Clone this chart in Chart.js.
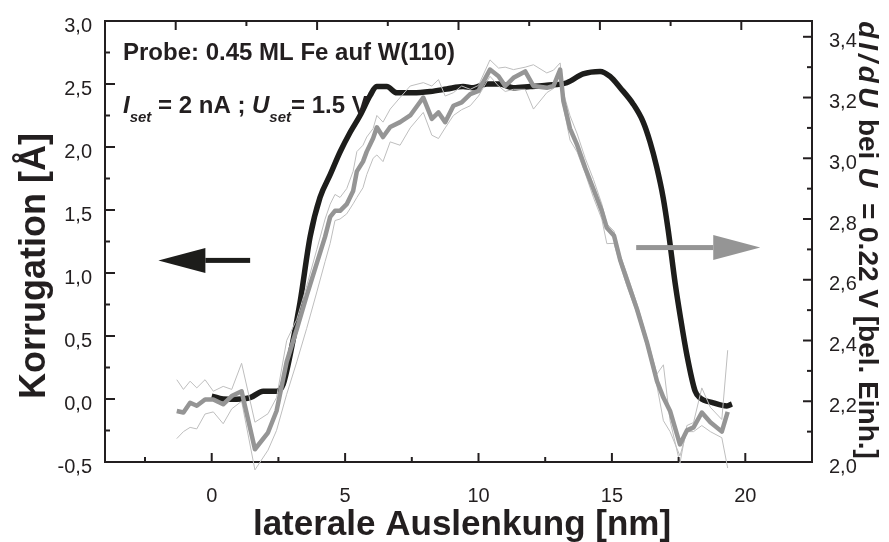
<!doctype html>
<html lang="de">
<head>
<meta charset="utf-8">
<title>Korrugation und dI/dU – 0.45 ML Fe auf W(110)</title>
<script src="https://cdn.jsdelivr.net/npm/chart.js@4"></script>
<style>
  html, body { margin: 0; padding: 0; background: #fff; }
  #wrap { width: 889px; height: 542px; position: relative; }
</style>
</head>
<body>
<div id="wrap"><canvas id="profile"></canvas></div>
<script>
// Höhenprofil, linke Achse [Å]
const topoX = [0, 0.43, 0.94, 1.44, 1.93, 2.44, 2.68, 2.94, 3.31, 3.69, 4.06, 4.44, 4.81, 5.19, 5.56, 5.94,
  6.18, 6.56, 6.94, 7.55, 8.19, 8.81, 9.42, 9.80, 10.31, 10.81, 11.30, 11.94, 12.56, 13.31, 13.92, 14.56,
  14.93, 15.31, 15.80, 16.17, 16.43, 16.68, 16.92, 17.11, 17.37, 17.56, 17.81, 18.12, 18.31, 18.80, 19.31, 19.50];
const topoY = [0.023, 0.0, -0.002, 0.01, 0.062, 0.062, 0.117, 0.35, 0.766, 1.289, 1.60, 1.78, 1.96, 2.117, 2.25, 2.41,
  2.48, 2.48, 2.43, 2.43, 2.44, 2.46, 2.48, 2.47, 2.50, 2.50, 2.47, 2.48, 2.49, 2.51, 2.58, 2.60,
  2.56, 2.47, 2.34, 2.20, 2.04, 1.84, 1.60, 1.34, 0.92, 0.66, 0.35, 0.062, 0.008, -0.03, -0.055, -0.04];

// dI/dU bei U = 0.22 V, rechte Achse: Mittelwert und Streuband
const specX = [-1.31, -1.06, -0.81, -0.56, -0.25, 0.06, 0.43, 0.75, 1.12, 1.62, 2.11, 2.43, 2.81, 3.19, 3.56, 3.94,
  4.25, 4.44, 4.62, 4.81, 5.06, 5.30, 5.44, 5.67, 5.81, 6.05, 6.19, 6.42, 6.69, 7.06, 7.44, 7.93,
  8.25, 8.50, 8.75, 9.06, 9.37, 9.69, 10.0, 10.43, 10.75, 11.0, 11.31, 11.75, 12.06, 12.56, 12.81, 13.06,
  13.18, 13.43, 13.70, 14.0, 14.31, 14.62, 14.81, 15.08, 15.31, 15.56, 15.94, 16.31, 16.69, 16.93, 17.18, 17.55,
  17.81, 18.06, 18.37, 18.69, 19.12, 19.34];
const specMean = [2.168, 2.163, 2.195, 2.185, 2.206, 2.206, 2.190, 2.217, 2.233, 2.042, 2.097, 2.168, 2.33, 2.438, 2.548, 2.655,
  2.742, 2.807, 2.827, 2.827, 2.849, 2.892, 2.957, 2.989, 3.022, 3.066, 3.102, 3.070, 3.103, 3.119, 3.141, 3.200,
  3.130, 3.151, 3.119, 3.173, 3.184, 3.211, 3.222, 3.292, 3.270, 3.238, 3.265, 3.286, 3.238, 3.232, 3.238, 3.292,
  3.189, 3.098, 3.043, 2.968, 2.898, 2.827, 2.771, 2.745, 2.665, 2.600, 2.503, 2.395, 2.266, 2.212, 2.168, 2.058,
  2.104, 2.114, 2.163, 2.131, 2.100, 2.165];
const specUpper = [2.271, 2.239, 2.266, 2.244, 2.271, 2.233, 2.249, 2.239, 2.325, 2.131, 2.159, 2.212, 2.40, 2.47, 2.58, 2.70,
  2.80, 2.849, 2.881, 2.871, 2.90, 2.957, 3.022, 3.043, 3.07, 3.098, 3.141, 3.119, 3.162, 3.20, 3.238, 3.249,
  3.238, 3.259, 3.205, 3.216, 3.238, 3.227, 3.24, 3.324, 3.297, 3.30, 3.292, 3.30, 3.308, 3.281, 3.29, 3.314,
  3.216, 3.140, 3.08, 3.00, 2.93, 2.85, 2.784, 2.76, 2.68, 2.62, 2.52, 2.41, 2.29, 2.320, 2.136, 1.996,
  2.12, 2.13, 2.244, 2.18, 2.14, 2.368];
const specLower = [2.077, 2.10, 2.114, 2.109, 2.158, 2.165, 2.126, 2.175, 2.20, 1.974, 2.039, 2.104, 2.223, 2.33, 2.44, 2.56,
  2.66, 2.72, 2.795, 2.80, 2.817, 2.85, 2.871, 2.903, 2.946, 3.0, 3.011, 2.989, 3.054, 3.043, 3.10, 3.151,
  3.076, 3.065, 3.10, 3.141, 3.16, 3.173, 3.205, 3.270, 3.238, 3.22, 3.227, 3.227, 3.162, 3.216, 3.23, 3.281,
  3.17, 3.06, 3.02, 2.95, 2.87, 2.80, 2.719, 2.72, 2.65, 2.58, 2.49, 2.38, 2.25, 2.136, 2.10, 2.02,
  2.10, 2.10, 2.12, 2.10, 2.08, 1.98];

// Achsenteilung
const xTicks = [0, 5, 10, 15, 20];
const xMinor = [-2.5, 2.5, 7.5, 12.5, 17.5];
const topTicks = [0, 1, 2, 3, 4];
const topMinor = [0.5, 1.5, 2.5, 3.5];
const leftTicks = [-0.5, 0, 0.5, 1, 1.5, 2, 2.5, 3];
const leftMinor = [-0.25, 0.25, 0.75, 1.25, 1.75, 2.25, 2.75];
const rightTicks = [2.0, 2.2, 2.4, 2.6, 2.8, 3.0, 3.2, 3.4];
const rightMinor = [2.1, 2.3, 2.5, 2.7, 2.9, 3.1, 3.3];

// Pfeile: welche Kurve zu welcher Achse gehört
const arrowTopo = { from: 1.44, to: -2.0, y: 1.1 };
const arrowSpec = { from: 15.91, to: 20.56, y: 2.706 };

const FAMILY = '"Liberation Sans", Arial, sans-serif';
const INK = '#231f20';
const GRAY = '#959595';

const pairs = (xs, ys) => xs.map((x, i) => ({ x, y: ys[i] }));
const comma = (v) => v.toFixed(1).replace('.', ',');

function drawRuns(ctx, x, y, runs) {
  let cx = x;
  for (const r of runs) {
    ctx.font = r.font;
    ctx.letterSpacing = r.spacing || '0px';
    ctx.fillText(r.text, cx, y + (r.dy || 0));
    cx += ctx.measureText(r.text).width;
  }
  ctx.letterSpacing = '0px';
}

function runsWidth(ctx, runs) {
  let w = 0;
  for (const r of runs) {
    ctx.font = r.font;
    ctx.letterSpacing = r.spacing || '0px';
    w += ctx.measureText(r.text).width;
  }
  ctx.letterSpacing = '0px';
  return w;
}

function arrow(ctx, x0, x1, y, color) {
  const dir = Math.sign(x1 - x0);
  const headLen = 47, half = 12.5;
  const base = x1 - dir * headLen;
  ctx.fillStyle = color;
  ctx.fillRect(Math.min(x0, base), y - 2.5, Math.abs(base - x0), 5);
  ctx.beginPath();
  ctx.moveTo(x1, y);
  ctx.lineTo(base, y - half);
  ctx.lineTo(base, y + half);
  ctx.closePath();
  ctx.fill();
}

const frame = {
  id: 'frame',
  afterDraw(chart) {
    const { ctx, chartArea: a, scales } = chart;
    ctx.save();
    ctx.strokeStyle = INK;
    ctx.lineWidth = 2;
    const marks = (scale, values, len, side) => {
      for (const v of values) {
        const p = scale.getPixelForValue(v);
        ctx.beginPath();
        if (side === 'left') { ctx.moveTo(a.left, p); ctx.lineTo(a.left + len, p); }
        if (side === 'right') { ctx.moveTo(a.right, p); ctx.lineTo(a.right - len, p); }
        if (side === 'bottom') { ctx.moveTo(p, a.bottom); ctx.lineTo(p, a.bottom - len); }
        if (side === 'top') { ctx.moveTo(p, a.top); ctx.lineTo(p, a.top + len); }
        ctx.stroke();
      }
    };
    marks(scales.y, leftTicks, 10, 'left');
    marks(scales.y, leftMinor, 5, 'left');
    marks(scales.y2, rightTicks, 9, 'right');
    marks(scales.y2, rightMinor, 5, 'right');
    marks(scales.x, xTicks, 9, 'bottom');
    marks(scales.x, xMinor, 5, 'bottom');
    marks(scales.xTop, topTicks, 9, 'top');
    marks(scales.xTop, topMinor, 5, 'top');

    arrow(ctx, scales.x.getPixelForValue(arrowTopo.from), scales.x.getPixelForValue(arrowTopo.to),
      scales.y.getPixelForValue(arrowTopo.y), '#1d1d1b');
    arrow(ctx, scales.x.getPixelForValue(arrowSpec.from), scales.x.getPixelForValue(arrowSpec.to),
      scales.y2.getPixelForValue(arrowSpec.y), GRAY);

    ctx.fillStyle = INK;
    ctx.textBaseline = 'alphabetic';
    ctx.textAlign = 'left';

    // Messbedingungen
    drawRuns(ctx, a.left + 18, a.top + 39, [{ text: 'Probe: 0.45 ML Fe auf W(110)', font: `bold 24px ${FAMILY}` }]);
    drawRuns(ctx, a.left + 18, a.top + 92, [
      { text: 'I', font: `italic bold 24px ${FAMILY}` },
      { text: 'set', font: `italic bold 15px ${FAMILY}`, dy: 9 },
      { text: ' = 2 nA ; ', font: `bold 24px ${FAMILY}` },
      { text: 'U', font: `italic bold 24px ${FAMILY}` },
      { text: 'set', font: `italic bold 15px ${FAMILY}`, dy: 9 },
      { text: '= 1.5 V', font: `bold 24px ${FAMILY}` },
    ]);

    // Achsentitel
    const bottomRuns = [{ text: 'laterale Auslenkung [nm]', font: `bold 35px ${FAMILY}` }];
    drawRuns(ctx, 462 - runsWidth(ctx, bottomRuns) / 2, 535, bottomRuns);

    const leftRuns = [{ text: 'Korrugation [Å]', font: `bold 36px ${FAMILY}` }];
    ctx.save();
    ctx.translate(45, 266);
    ctx.rotate(-Math.PI / 2);
    drawRuns(ctx, -runsWidth(ctx, leftRuns) / 2, 0, leftRuns);
    ctx.restore();

    const rightRuns = [
      { text: 'dI/dU', font: `italic bold 28px ${FAMILY}`, spacing: '4px' },
      { text: ' bei ', font: `bold 28px ${FAMILY}` },
      { text: 'U', font: `italic bold 28px ${FAMILY}` },
      { text: '  = 0.22 V [bel. Einh.]', font: `bold 28px ${FAMILY}` },
    ];
    ctx.save();
    ctx.translate(859, 240);
    ctx.rotate(Math.PI / 2);
    drawRuns(ctx, -runsWidth(ctx, rightRuns) / 2, 0, rightRuns);
    ctx.restore();

    ctx.restore();
  },
};

const tickFont = { family: FAMILY, size: 20 };
const bare = { display: false };
const border = { display: true, color: INK, width: 2 };

new Chart(document.getElementById('profile'), {
  type: 'line',
  data: {
    datasets: [
      { label: 'dI/dU Mittelwert', data: pairs(specX, specMean), yAxisID: 'y2',
        borderColor: GRAY, borderWidth: 4.5, clip: 12 },
      { label: 'dI/dU oben', data: pairs(specX, specUpper), yAxisID: 'y2',
        borderColor: '#bebebe', borderWidth: 1, clip: 12 },
      { label: 'dI/dU unten', data: pairs(specX, specLower), yAxisID: 'y2',
        borderColor: '#bebebe', borderWidth: 1, clip: 12 },
      { label: 'Korrugation', data: pairs(topoX, topoY), yAxisID: 'y',
        borderColor: '#1d1d1b', borderWidth: 5.5, cubicInterpolationMode: 'monotone' },
    ],
  },
  options: {
    responsive: true,
    maintainAspectRatio: false,
    animation: false,
    layout: { padding: 0 },
    elements: {
      point: { radius: 0, hoverRadius: 0 },
      line: { tension: 0, borderJoinStyle: 'round', fill: false },
    },
    plugins: { legend: { display: false }, tooltip: { enabled: false } },
    events: [],
    scales: {
      x: {
        type: 'linear', position: 'bottom', min: -4, max: 22.5,
        grid: bare, border,
        afterBuildTicks: (s) => { s.ticks = xTicks.map((value) => ({ value })); },
        afterFit: (s) => { s.height = 80; },
        ticks: { font: tickFont, color: INK, padding: 14, maxRotation: 0, callback: (v) => String(v) },
      },
      xTop: {
        type: 'linear', position: 'top', min: -0.5, max: 4.5,
        grid: bare, border,
        ticks: { display: false },
        afterFit: (s) => { s.height = 14; },
      },
      y: {
        type: 'linear', position: 'left', min: -0.5, max: 3.0,
        grid: bare, border,
        afterBuildTicks: (s) => { s.ticks = leftTicks.map((value) => ({ value })); },
        afterFit: (s) => { s.width = 105; },
        ticks: { font: tickFont, color: INK, padding: 5, labelOffset: 5, callback: comma },
      },
      y2: {
        type: 'linear', position: 'right', min: 2.0, max: 3.452,
        grid: bare, border,
        afterBuildTicks: (s) => { s.ticks = rightTicks.map((value) => ({ value })); },
        afterFit: (s) => { s.width = 77; },
        ticks: { font: tickFont, color: INK, padding: 9, labelOffset: 5, callback: comma },
      },
    },
  },
  plugins: [frame],
});
</script>
</body>
</html>
